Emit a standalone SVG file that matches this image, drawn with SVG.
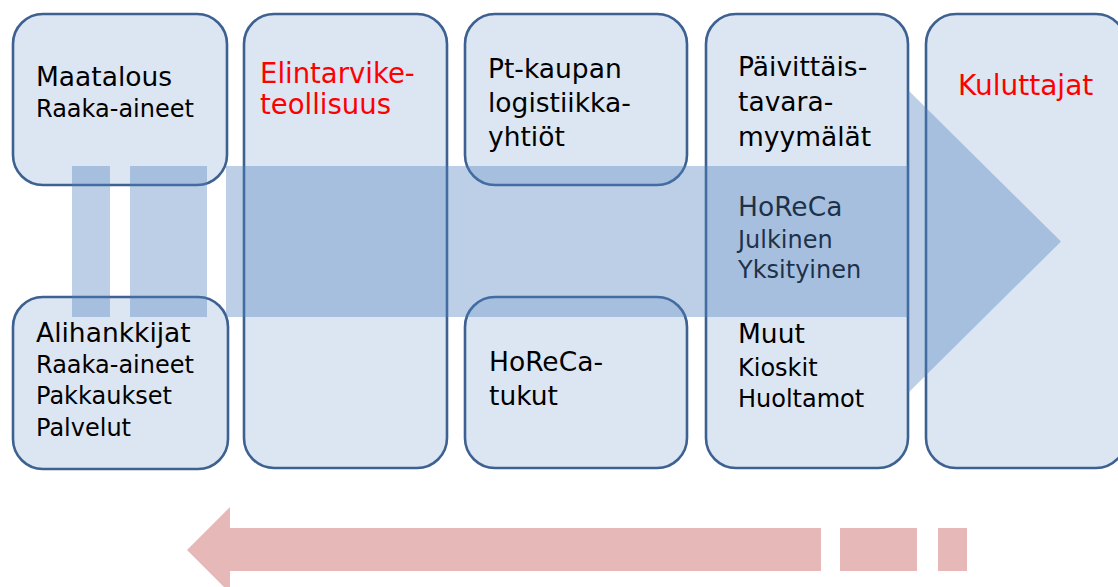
<svg xmlns="http://www.w3.org/2000/svg" width="1118" height="587" viewBox="0 0 1118 587">
<style>
.box{fill:#dce6f2;stroke:#3d6191;stroke-width:2.6}
.t{font-family:"DejaVu Sans",Verdana,sans-serif;fill:#000}
.b{font-size:26.5px}
.s{font-size:24px}
.red{fill:#ff0000}
.flow{fill:#4f81bd;opacity:0.38}
.back{fill:#e6b8b7}
</style>
<rect width="1118" height="587" fill="#ffffff"/>
<g id="maatalous">
<rect class="box" x="13" y="14" width="214" height="171" rx="30"/>
<text class="t b" x="36" y="86">Maatalous</text>
<text class="t s" x="36" y="117">Raaka-aineet</text>
</g>
<g id="alihankkijat">
<rect class="box" x="13" y="297" width="215" height="172" rx="30"/>
<text class="t b" x="36" y="342">Alihankkijat</text>
<text class="t s" x="36" y="373">Raaka-aineet</text>
<text class="t s" x="36" y="404">Pakkaukset</text>
<text class="t s" x="36" y="436">Palvelut</text>
</g>
<g id="elintarviketeollisuus">
<rect class="box" x="244" y="14" width="203" height="454" rx="30"/>
<text class="t red" font-size="27.5" x="260" y="83">Elintarvike-</text>
<text class="t red" font-size="27.5" x="260" y="114">teollisuus</text>
</g>
<g id="logistiikka">
<rect class="box" x="465" y="14" width="222" height="171" rx="30"/>
<text class="t b" x="488" y="78">Pt-kaupan</text>
<text class="t b" x="488" y="112">logistiikka-</text>
<text class="t b" x="488" y="146">yhtiöt</text>
</g>
<g id="horeca-tukut">
<rect class="box" x="465" y="297" width="222" height="171" rx="30"/>
<text class="t b" x="489" y="371">HoReCa-</text>
<text class="t b" x="489" y="405">tukut</text>
</g>
<g id="myymalat">
<rect class="box" x="706" y="14" width="202" height="454" rx="30"/>
<text class="t b" x="738" y="76">Päivittäis-</text>
<text class="t b" x="738" y="111">tavara-</text>
<text class="t b" x="738" y="146">myymälät</text>
<text class="t b" x="738" y="216">HoReCa</text>
<text class="t s" x="738" y="248">Julkinen</text>
<text class="t s" x="738" y="278">Yksityinen</text>
<text class="t b" x="738" y="343">Muut</text>
<text class="t s" x="738" y="376">Kioskit</text>
<text class="t s" x="738" y="407">Huoltamot</text>
</g>
<g id="kuluttajat">
<rect class="box" x="926" y="14" width="200" height="454" rx="30"/>
<text class="t red" font-size="28" x="958" y="95">Kuluttajat</text>
</g>
<g id="connectors">
<rect class="flow" x="72" y="166" width="38" height="151"/>
<rect class="flow" x="130" y="166" width="77" height="151"/>
<polygon class="flow" points="226,166 908,166 908,90 1061,241.5 908,393 908,317 226,317"/>
<polygon class="back" points="187,550 230,507 230,528 821,528 821,571 230,571 230,593"/>
<rect class="back" x="840" y="528" width="77" height="43"/>
<rect class="back" x="938" y="528" width="29" height="43"/>
</g>
</svg>
